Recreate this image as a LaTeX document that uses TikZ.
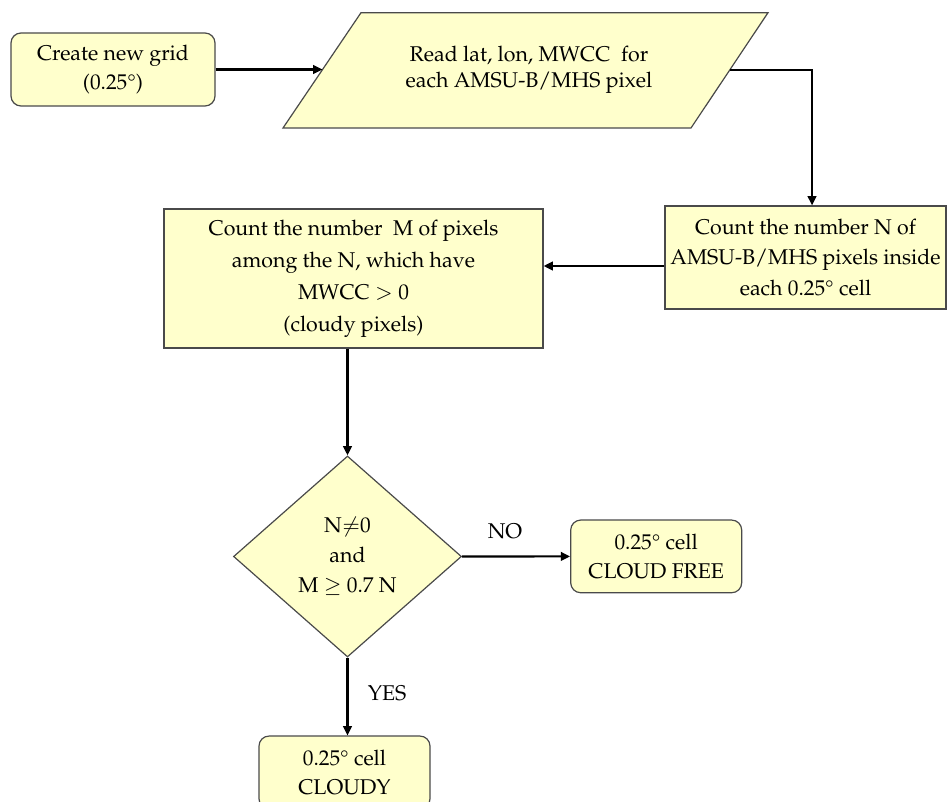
\documentclass[tikz,border=0pt]{standalone}
\usepackage[T1]{fontenc}
\usepackage{mathpazo}
\usepackage{textcomp}
\usetikzlibrary{shapes.geometric,arrows.meta,calc}
\definecolor{boxfill}{HTML}{FFFFCC}
\definecolor{boxline}{HTML}{4A4A4A}
\begin{document}
\begin{tikzpicture}[x=0.75pt,y=-0.75pt,
  every node/.style={font=\fontsize{16}{21.5}\selectfont, align=center, text=black},
  rbox/.style={draw=boxline, fill=boxfill, rounded corners=7.5pt, line width=0.9pt, inner sep=0pt},
  sbox/.style={draw=boxline, fill=boxfill, line width=0.9pt, inner sep=0pt},
  arr/.style={line width=1.6pt, -{Triangle[length=7pt,width=6.5pt]}},
  lbl/.style={inner sep=0pt}
]
\useasboundingbox (0,0) rectangle (947,802);
\clip (0,0) rectangle (947,802);

% Create new grid
\node[rbox, minimum width=153pt, minimum height=54.75pt] (grid) at (113,69.5) {Create new grid\\(0.25\textdegree)};

% Parallelogram
\coordinate (ptl) at (361,12.7);
\coordinate (ptr) at (768,12.7);
\coordinate (pbr) at (691,128);
\coordinate (pbl) at (283,128);
\draw[draw=boxline, fill=boxfill, line width=0.9pt] (ptl) -- (ptr) -- (pbr) -- (pbl) -- cycle;
\node[font=\fontsize{16}{19.5}\selectfont] (read) at (529,70) {Read lat, lon, MWCC\ \ for\\each AMSU-B/MHS pixel};
\coordinate (pin) at ($(pbl)!0.506!(ptl)$);
\coordinate (pout) at ($(pbr)!0.506!(ptr)$);

% Count N
\node[sbox, minimum width=210.75pt, minimum height=77.25pt, font=\fontsize{16}{23}\selectfont] (cntN) at (805.5,257.5) {Count the number N of\\AMSU-B/MHS pixels inside\\each 0.25\textdegree{} cell};

% Count M
\node[sbox, minimum width=284.25pt, minimum height=104.25pt, font=\fontsize{16}{24}\selectfont] (cntM) at (353.5,278.5) {Count the number\ \ M of pixels\\among the N, which have\\MWCC $>$ 0\\(cloudy pixels)};

% Decision
\node[diamond, draw=boxline, fill=boxfill, line width=0.9pt, inner sep=0pt, minimum width=171pt, minimum height=150.75pt, font=\fontsize{16}{22.5}\selectfont] (dec) at (347.5,556.5) {N$\neq$0\\and\\M $\geq$ 0.7 N};

% Results
\node[rbox, minimum width=128.25pt, minimum height=54.5pt] (cf) at (656.2,556.4) {0.25\textdegree{} cell\\CLOUD FREE};
\node[rbox, minimum width=128.25pt, minimum height=54.5pt] (cl) at (344.5,772.4) {0.25\textdegree{} cell\\CLOUDY};

% Connectors
\draw[arr] (grid.east) -- (grid.east -| pin);
\draw[arr] (pout) -| ([xshift=4.9pt]cntN.north);
\coordinate (yNM) at (0,266);
\draw[arr] (cntN.west |- yNM) -- (cntM.east |- yNM);
\draw[arr] (dec.north |- cntM.south) -- (dec.north);
\draw[arr] (dec.east) -- (cf.west);
\draw[arr] (dec.south) -- (dec.south |- cl.north);

\node[lbl] (no) at (505,531) {NO};
\node[lbl] (yes) at (387,693) {YES};
\end{tikzpicture}
\end{document}
